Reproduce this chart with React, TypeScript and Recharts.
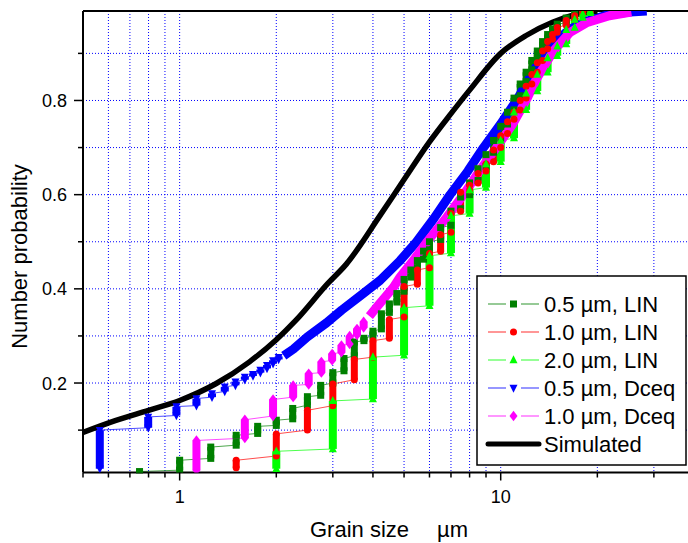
import React from "react";
import { CartesianGrid, ComposedChart, ErrorBar, Line, ReferenceLine, XAxis, YAxis } from "recharts";

// [grain size, first cum. probability, last cum. probability] for each repeated size
type Step = [number, number, number];
type Pt = [number, number];

const LIN_05: Step[] = [
  [0.75, 0.008, 0.012], [1.0, 0.015, 0.036], [1.25, 0.04, 0.064], [1.5, 0.068, 0.089],
  [1.75, 0.093, 0.108], [2.0, 0.11, 0.121], [2.25, 0.124, 0.146], [2.5, 0.153, 0.171],
  [2.75, 0.174, 0.195], [3.0, 0.2, 0.222], [3.25, 0.226, 0.252], [3.5, 0.258, 0.287],
  [3.75, 0.29, 0.295], [4.0, 0.3, 0.31], [4.25, 0.315, 0.347], [4.5, 0.35, 0.368],
  [4.75, 0.372, 0.39], [5.0, 0.395, 0.42], [5.25, 0.425, 0.44], [5.5, 0.445, 0.46],
  [5.75, 0.463, 0.48], [6.0, 0.483, 0.5], [6.5, 0.505, 0.53], [7.0, 0.535, 0.565],
  [7.5, 0.57, 0.595], [8.0, 0.6, 0.625], [8.5, 0.63, 0.655], [9.0, 0.66, 0.685],
  [9.5, 0.69, 0.715], [10, 0.72, 0.745], [10.5, 0.75, 0.775], [11, 0.78, 0.805],
  [11.5, 0.81, 0.835], [12, 0.84, 0.86], [12.5, 0.865, 0.885], [13, 0.89, 0.905],
  [13.5, 0.91, 0.925], [14, 0.93, 0.94], [14.5, 0.945, 0.952], [15, 0.955, 0.962],
  [16, 0.965, 0.975], [17, 0.978, 0.985], [18, 0.987, 0.99],
];

const LIN_10: Step[] = [
  [1.5, 0.02, 0.036], [2.0, 0.045, 0.092], [2.5, 0.1, 0.142], [3.0, 0.152, 0.198],
  [3.5, 0.207, 0.25], [4.0, 0.255, 0.29], [4.5, 0.295, 0.335], [5.0, 0.34, 0.405],
  [5.5, 0.41, 0.44], [6.0, 0.445, 0.475], [6.5, 0.48, 0.515], [7.0, 0.52, 0.56],
  [7.5, 0.565, 0.605], [8.0, 0.61, 0.62], [8.5, 0.625, 0.645], [9.0, 0.65, 0.665],
  [9.5, 0.67, 0.695], [10, 0.7, 0.725], [10.5, 0.73, 0.755], [11, 0.76, 0.775],
  [11.5, 0.78, 0.8], [12, 0.805, 0.83], [12.5, 0.835, 0.855], [13, 0.86, 0.88],
  [13.5, 0.885, 0.905], [14, 0.91, 0.925], [14.5, 0.93, 0.94], [15, 0.945, 0.955],
  [16, 0.96, 0.97], [17, 0.972, 0.98], [18, 0.982, 0.988], [19, 0.99, 0.99],
];

const LIN_20: Step[] = [
  [2.0, 0.018, 0.055], [3.0, 0.06, 0.162], [4.0, 0.166, 0.255], [5.0, 0.259, 0.36],
  [6.0, 0.364, 0.47], [7.0, 0.476, 0.555], [8.0, 0.56, 0.61], [9.0, 0.615, 0.665],
  [10, 0.67, 0.715], [11, 0.72, 0.775], [12, 0.78, 0.815], [13, 0.82, 0.855],
  [14, 0.86, 0.89], [15, 0.895, 0.915], [16, 0.92, 0.95], [17, 0.955, 0.972],
  [18, 0.976, 0.984], [19, 0.986, 0.99],
];

const DCEQ_05_STEPS: Step[] = [
  [0.564, 0.018, 0.1], [0.798, 0.105, 0.128], [0.977, 0.131, 0.15], [1.128, 0.152, 0.167],
  [1.261, 0.17, 0.178], [1.382, 0.182, 0.192], [1.492, 0.195, 0.203], [1.596, 0.207, 0.213],
  [1.692, 0.215, 0.219], [1.784, 0.222, 0.228], [1.871, 0.231, 0.238], [1.954, 0.241, 0.248],
  [2.034, 0.25, 0.255],
];
const DCEQ_05_BAND: Pt[] = [
  [2.11, 0.258], [2.26, 0.272], [2.5, 0.298], [2.87, 0.328], [3.2, 0.355], [3.65, 0.385],
  [4.21, 0.418], [4.86, 0.46], [5.47, 0.5], [6.2, 0.55], [6.96, 0.6], [7.9, 0.65],
  [8.84, 0.7], [10.0, 0.75], [11.2, 0.8], [12.9, 0.872], [14.6, 0.922], [16.4, 0.951],
  [18.5, 0.968], [21.8, 0.983], [25.3, 0.988], [28.5, 0.99],
];

const DCEQ_10_STEPS: Step[] = [
  [1.128, 0.015, 0.078], [1.596, 0.083, 0.122], [1.954, 0.13, 0.165], [2.257, 0.17, 0.195],
  [2.523, 0.197, 0.22], [2.763, 0.222, 0.245], [2.985, 0.248, 0.262], [3.191, 0.265, 0.28],
  [3.385, 0.283, 0.3], [3.568, 0.302, 0.315], [3.742, 0.318, 0.33],
];
const DCEQ_10_BAND: Pt[] = [
  [3.9, 0.342], [4.11, 0.361], [4.4, 0.385], [4.63, 0.403], [4.86, 0.425], [5.34, 0.46],
  [5.9, 0.5], [6.79, 0.552], [7.66, 0.6], [8.62, 0.652], [9.7, 0.7], [10.9, 0.75],
  [12.1, 0.805], [12.9, 0.845], [14.6, 0.905], [16.4, 0.944], [18.5, 0.965], [21.8, 0.98],
  [25.5, 0.988],
];

const SIMULATED: Pt[] = [
  [0.5, 0.095], [0.63, 0.12], [0.8, 0.142], [1.0, 0.163], [1.3, 0.199], [1.65, 0.245],
  [2.0, 0.292], [2.3, 0.333], [2.9, 0.412], [3.3, 0.452], [4.2, 0.555], [5.0, 0.632],
  [6.0, 0.712], [7.0, 0.772], [8.0, 0.822], [10, 0.9], [12, 0.938], [14.5, 0.966],
  [17, 0.982], [20, 0.99],
];

const X_MAJOR = [1, 10];
const X_TICKS = [0.5, 0.6, 0.7, 0.8, 0.9, 1, 2, 3, 4, 5, 6, 7, 8, 9, 10, 20, 30];
const Y_MAJOR = [0.2, 0.4, 0.6, 0.8];
const Y_TICKS = [0.1, 0.2, 0.3, 0.4, 0.5, 0.6, 0.7, 0.8, 0.9];

const FONT = '"Liberation Sans", Arial, sans-serif';
const DARK_GREEN = "#008000";
const RED = "#ff0000";
const LIME = "#00ff00";
const BLUE = "#0000ff";
const MAGENTA = "#ff00ff";

type Shape = "square" | "circle" | "triUp" | "triDown" | "diamond";

function Marker({ shape, cx, cy, s, color }: { shape: Shape; cx: number; cy: number; s: number; color: string }) {
  const h = s / 2;
  if (shape === "square") return <rect x={cx - h} y={cy - h} width={s} height={s} fill={color} />;
  if (shape === "circle") return <circle cx={cx} cy={cy} r={h} fill={color} />;
  if (shape === "triUp")
    return <path d={`M${cx},${cy - s * 0.6}L${cx + h},${cy + s * 0.4}L${cx - h},${cy + s * 0.4}Z`} fill={color} />;
  if (shape === "triDown")
    return <path d={`M${cx},${cy + s * 0.6}L${cx + h},${cy - s * 0.4}L${cx - h},${cy - s * 0.4}Z`} fill={color} />;
  return <path d={`M${cx},${cy - s * 0.65}L${cx + h},${cy}L${cx},${cy + s * 0.65}L${cx - h},${cy}Z`} fill={color} />;
}

function makeDot(shape: Shape, color: string, s: number) {
  return (p: any) => {
    const key = `d-${p.index}`;
    if (p.cx == null || p.cy == null) return <g key={key} />;
    return (
      <g key={key}>
        <Marker shape={shape} cx={p.cx} cy={p.cy} s={s} color={color} />
      </g>
    );
  };
}

function stepPoints(steps: Step[]) {
  return steps.flatMap(([x, lo, hi]) => [
    { x, y: lo, err: [0, hi - lo] },
    { x, y: hi, err: [0, 0] },
  ]);
}

const toPts = (pts: Pt[]) => pts.map(([x, y]) => ({ x, y }));

function XTick(props: any) {
  const { x, y, payload } = props;
  const major = X_MAJOR.includes(payload.value);
  return (
    <g>
      <line x1={x} x2={x} y1={y} y2={y + (major ? 8 : 5)} stroke="#000" strokeWidth={1.5} />
      {major && (
        <text x={x} y={y + 30} textAnchor="middle" fontSize={18} fontFamily={FONT} fill="#000">
          {payload.value}
        </text>
      )}
    </g>
  );
}

function YTick(props: any) {
  const { x, y, payload } = props;
  const major = Y_MAJOR.some((v) => Math.abs(v - payload.value) < 1e-6);
  return (
    <g>
      <line x1={x - (major ? 9 : 5)} x2={x} y1={y} y2={y} stroke="#000" strokeWidth={1.5} />
      {major && (
        <text x={x - 16} y={y + 6.5} textAnchor="end" fontSize={18} fontFamily={FONT} fill="#000">
          {payload.value}
        </text>
      )}
    </g>
  );
}

function XTitle() {
  return (
    <text y={537} fontSize={22} fontFamily={FONT} fill="#000">
      <tspan x={310}>Grain size</tspan>
      <tspan x={437}>µm</tspan>
    </text>
  );
}

function YTitle() {
  return (
    <text
      x={27}
      y={256.5}
      transform="rotate(-90, 27, 256.5)"
      textAnchor="middle"
      fontSize={22}
      fontFamily={FONT}
      fill="#000"
    >
      Number probability
    </text>
  );
}

const LEGEND: Array<{ label: string; color: string; shape: Shape | null; s: number }> = [
  { label: "0.5 µm, LIN", color: DARK_GREEN, shape: "square", s: 7 },
  { label: "1.0 µm, LIN", color: RED, shape: "circle", s: 7 },
  { label: "2.0 µm, LIN", color: LIME, shape: "triUp", s: 8 },
  { label: "0.5 µm, Dceq", color: BLUE, shape: "triDown", s: 8 },
  { label: "1.0 µm, Dceq", color: MAGENTA, shape: "diamond", s: 8 },
  { label: "Simulated", color: "#000", shape: null, s: 0 },
];

function LegendBox() {
  return (
    <svg
      width={212}
      height={192}
      style={{ position: "absolute", left: 476, top: 275 }}
    >
      <rect x={1} y={1} width={209} height={189} fill="#fff" stroke="#000" strokeWidth={1.5} />
      {LEGEND.map((e, i) => {
        const cy = 29 + i * 28;
        return (
          <g key={e.label}>
            {e.shape ? (
              <>
                <line x1={12} x2={30} y1={cy} y2={cy} stroke={e.color} strokeOpacity={0.55} strokeWidth={1.5} />
                <line x1={45} x2={63} y1={cy} y2={cy} stroke={e.color} strokeOpacity={0.55} strokeWidth={1.5} />
                <Marker shape={e.shape} cx={37.5} cy={cy} s={e.s} color={e.color} />
              </>
            ) : (
              <line x1={12} x2={63} y1={cy} y2={cy} stroke="#000" strokeWidth={5} strokeLinecap="round" />
            )}
            <text x={68} y={cy + 8} fontSize={22} fontFamily={FONT} fill="#000">
              {e.label}
            </text>
          </g>
        );
      })}
    </svg>
  );
}

function StepSeries(steps: Step[], color: string, shape: Shape, s: number, key: string) {
  return (
    <Line
      key={key}
      data={stepPoints(steps)}
      dataKey="y"
      type="linear"
      stroke={color}
      strokeOpacity={0.7}
      strokeWidth={1}
      dot={makeDot(shape, color, s)}
      activeDot={false}
      isAnimationActive={false}
      legendType="none"
    >
      <ErrorBar dataKey="err" direction="y" width={0} stroke={color} strokeWidth={s} isAnimationActive={false} />
    </Line>
  );
}

export default function App() {
  return (
    <div
      style={{
        position: "absolute",
        left: 0,
        top: 0,
        width: 688,
        height: 543,
        overflow: "hidden",
        background: "#fff",
      }}
    >
      <ComposedChart width={700} height={543} margin={{ top: 11, right: 6, bottom: 40.5, left: 0 }}>
        <CartesianGrid stroke={BLUE} strokeDasharray="1 2" strokeWidth={1} />
        <XAxis
          type="number"
          dataKey="x"
          scale="log"
          domain={[0.5, 40]}
          allowDataOverflow
          ticks={X_TICKS}
          interval={0}
          tick={<XTick />}
          tickLine={false}
          tickSize={0}
          tickMargin={0}
          height={30}
          axisLine={{ stroke: "#000", strokeWidth: 2 }}
          label={<XTitle />}
        />
        <YAxis
          type="number"
          domain={[0.01, 0.99]}
          allowDataOverflow
          ticks={Y_TICKS}
          interval={0}
          tick={<YTick />}
          tickLine={false}
          tickSize={0}
          tickMargin={0}
          width={83}
          axisLine={{ stroke: "#000", strokeWidth: 2 }}
          label={<YTitle />}
        />
        <ReferenceLine y={0.99} stroke="#000" strokeWidth={2} />
        {StepSeries(LIN_05, DARK_GREEN, "square", 7, "lin05")}
        {StepSeries(LIN_10, RED, "circle", 7, "lin10")}
        {StepSeries(LIN_20, LIME, "triUp", 8, "lin20")}
        {StepSeries(DCEQ_05_STEPS, BLUE, "triDown", 8, "dceq05s")}
        <Line
          data={toPts(DCEQ_05_BAND)}
          dataKey="y"
          type="linear"
          stroke={BLUE}
          strokeWidth={9}
          strokeLinejoin="round"
          dot={false}
          activeDot={false}
          isAnimationActive={false}
          legendType="none"
        />
        {StepSeries(DCEQ_10_STEPS, MAGENTA, "diamond", 8, "dceq10s")}
        <Line
          data={toPts(DCEQ_10_BAND)}
          dataKey="y"
          type="linear"
          stroke={MAGENTA}
          strokeWidth={9}
          strokeLinejoin="round"
          dot={false}
          activeDot={false}
          isAnimationActive={false}
          legendType="none"
        />
        <Line
          data={toPts(SIMULATED)}
          dataKey="y"
          type="monotone"
          stroke="#000"
          strokeWidth={5.5}
          dot={false}
          activeDot={false}
          isAnimationActive={false}
          legendType="none"
        />
      </ComposedChart>
      <LegendBox />
    </div>
  );
}
